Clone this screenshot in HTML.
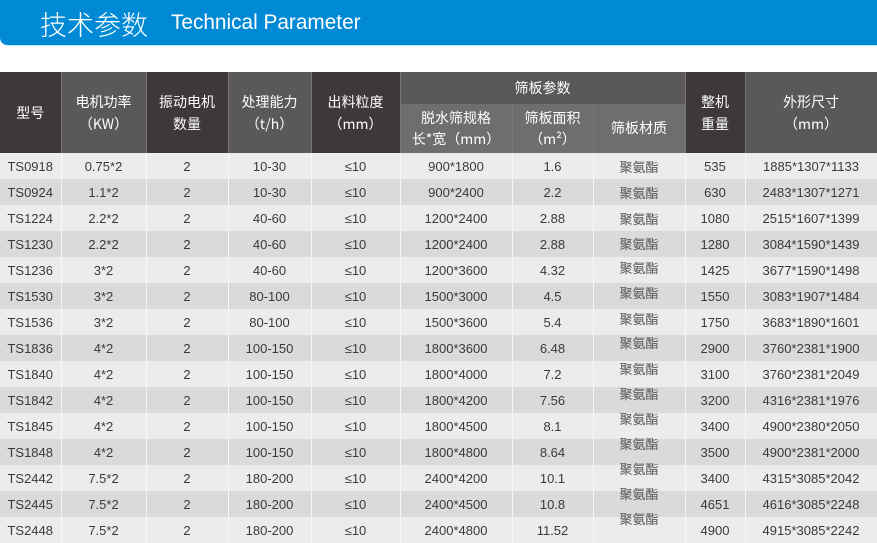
<!DOCTYPE html>
<html><head><meta charset="utf-8"><style>
*{margin:0;padding:0;box-sizing:border-box}
body{width:877px;height:542px;overflow:hidden;background:#fff;font-family:"Liberation Sans","Noto Sans CJK SC",sans-serif;position:relative}
.banner{position:absolute;left:0;top:0;width:877px;height:46px;background:#0089d4;border-bottom-left-radius:8px;border-bottom:1px solid #bfe2f5}
.banner .cn{position:absolute;left:40px;top:4px;font-size:27px;color:#fff;font-family:"Noto Sans CJK SC",sans-serif;font-weight:300}
.banner .en{position:absolute;left:171px;top:11px;font-size:20.8px;color:#fff}
table{position:absolute;left:0;top:72px;border-collapse:collapse;table-layout:fixed;width:877px}
th{color:#fff;font-weight:normal;font-size:14px;line-height:22px;font-family:"Noto Sans CJK SC",sans-serif;border-right:1px solid #777;vertical-align:middle;text-align:center;padding:0}
th.d{background:#3e3838}
th.l{background:#5a5858}
th.s{background:#6e6e6e;font-size:14px;line-height:21px}
td{height:26px;font-size:13px;color:#3a3a3a;text-align:center;border-right:1px solid #f6f6f6;padding:0;white-space:nowrap}
tr.a td{background:#ececec}
tr.b td{background:#dadada}
td.m span{position:relative;font-family:"Noto Sans CJK SC",sans-serif;color:#555}
</style></head><body>
<div class="banner"><span class="cn">技术参数</span><span class="en">Technical Parameter</span></div>
<table>
<colgroup><col style="width:61px"><col style="width:85px"><col style="width:82px"><col style="width:83px"><col style="width:89px"><col style="width:112px"><col style="width:81px"><col style="width:92px"><col style="width:60px"><col style="width:132px"></colgroup>
<tr style="height:32px"><th class="d" rowspan="2">型号</th><th class="l" rowspan="2">电机功率<br>（KW）</th><th class="d" rowspan="2">振动电机<br>数量</th><th class="l" rowspan="2">处理能力<br>（t/h）</th><th class="d" rowspan="2">出料粒度<br>（mm）</th><th class="l" colspan="3">筛板参数</th><th class="d" rowspan="2">整机<br>重量</th><th class="l" rowspan="2">外形尺寸<br>（mm）</th></tr>
<tr style="height:49px"><th class="s">脱水筛规格<br>长*宽（mm）</th><th class="s">筛板面积<br>（m²）</th><th class="s">筛板材质</th></tr>
<tr class="a"><td>TS0918</td><td>0.75*2</td><td>2</td><td>10-30</td><td>≤10</td><td>900*1800</td><td>1.6</td><td class="m"><span style="top:0">聚氨酯</span></td><td>535</td><td>1885*1307*1133</td></tr>
<tr class="b"><td>TS0924</td><td>1.1*2</td><td>2</td><td>10-30</td><td>≤10</td><td>900*2400</td><td>2.2</td><td class="m"><span style="top:0">聚氨酯</span></td><td>630</td><td>2483*1307*1271</td></tr>
<tr class="a"><td>TS1224</td><td>2.2*2</td><td>2</td><td>40-60</td><td>≤10</td><td>1200*2400</td><td>2.88</td><td class="m"><span style="top:0">聚氨酯</span></td><td>1080</td><td>2515*1607*1399</td></tr>
<tr class="b"><td>TS1230</td><td>2.2*2</td><td>2</td><td>40-60</td><td>≤10</td><td>1200*2400</td><td>2.88</td><td class="m"><span style="top:-1px">聚氨酯</span></td><td>1280</td><td>3084*1590*1439</td></tr>
<tr class="a"><td>TS1236</td><td>3*2</td><td>2</td><td>40-60</td><td>≤10</td><td>1200*3600</td><td>4.32</td><td class="m"><span style="top:-3px">聚氨酯</span></td><td>1425</td><td>3677*1590*1498</td></tr>
<tr class="b"><td>TS1530</td><td>3*2</td><td>2</td><td>80-100</td><td>≤10</td><td>1500*3000</td><td>4.5</td><td class="m"><span style="top:-4px">聚氨酯</span></td><td>1550</td><td>3083*1907*1484</td></tr>
<tr class="a"><td>TS1536</td><td>3*2</td><td>2</td><td>80-100</td><td>≤10</td><td>1500*3600</td><td>5.4</td><td class="m"><span style="top:-4px">聚氨酯</span></td><td>1750</td><td>3683*1890*1601</td></tr>
<tr class="b"><td>TS1836</td><td>4*2</td><td>2</td><td>100-150</td><td>≤10</td><td>1800*3600</td><td>6.48</td><td class="m"><span style="top:-6px">聚氨酯</span></td><td>2900</td><td>3760*2381*1900</td></tr>
<tr class="a"><td>TS1840</td><td>4*2</td><td>2</td><td>100-150</td><td>≤10</td><td>1800*4000</td><td>7.2</td><td class="m"><span style="top:-6px">聚氨酯</span></td><td>3100</td><td>3760*2381*2049</td></tr>
<tr class="b"><td>TS1842</td><td>4*2</td><td>2</td><td>100-150</td><td>≤10</td><td>1800*4200</td><td>7.56</td><td class="m"><span style="top:-7px">聚氨酯</span></td><td>3200</td><td>4316*2381*1976</td></tr>
<tr class="a"><td>TS1845</td><td>4*2</td><td>2</td><td>100-150</td><td>≤10</td><td>1800*4500</td><td>8.1</td><td class="m"><span style="top:-8px">聚氨酯</span></td><td>3400</td><td>4900*2380*2050</td></tr>
<tr class="b"><td>TS1848</td><td>4*2</td><td>2</td><td>100-150</td><td>≤10</td><td>1800*4800</td><td>8.64</td><td class="m"><span style="top:-9px">聚氨酯</span></td><td>3500</td><td>4900*2381*2000</td></tr>
<tr class="a"><td>TS2442</td><td>7.5*2</td><td>2</td><td>180-200</td><td>≤10</td><td>2400*4200</td><td>10.1</td><td class="m"><span style="top:-10px">聚氨酯</span></td><td>3400</td><td>4315*3085*2042</td></tr>
<tr class="b"><td>TS2445</td><td>7.5*2</td><td>2</td><td>180-200</td><td>≤10</td><td>2400*4500</td><td>10.8</td><td class="m"><span style="top:-11px">聚氨酯</span></td><td>4651</td><td>4616*3085*2248</td></tr>
<tr class="a"><td>TS2448</td><td>7.5*2</td><td>2</td><td>180-200</td><td>≤10</td><td>2400*4800</td><td>11.52</td><td class="m"><span style="top:-12px">聚氨酯</span></td><td>4900</td><td>4915*3085*2242</td></tr>
</table>
</body></html>
